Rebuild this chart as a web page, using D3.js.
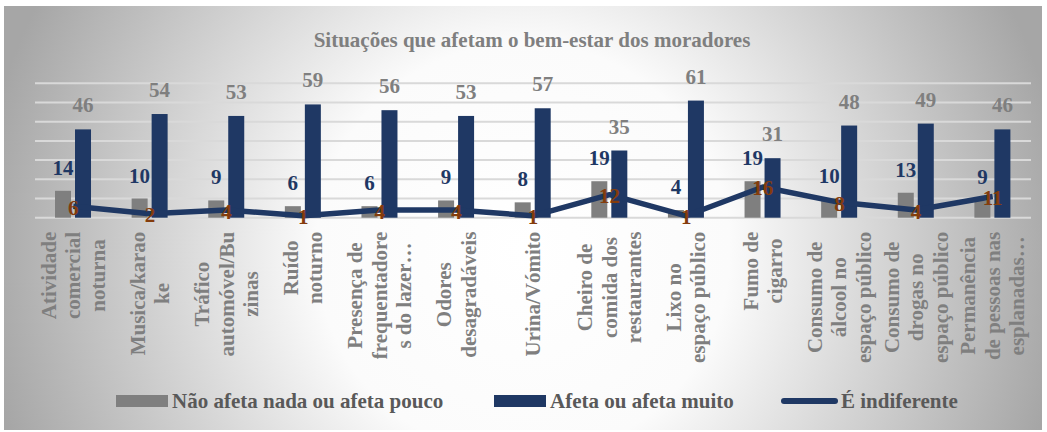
<!DOCTYPE html>
<html>
<head>
<meta charset="utf-8">
<script src="https://cdn.jsdelivr.net/npm/d3@7"></script>
<style>
  html, body { margin: 0; padding: 0; background: #ffffff; }
  svg { display: block; }
  text { font-family: "Liberation Serif", "Times New Roman", serif; font-weight: bold; }
</style>
</head>
<body>
<svg id="chart" width="1047" height="432"></svg>
<script>
// Chart data
const categories = [
    ["Atividade", "comercial", "noturna"],
    ["Musica/karao", "ke"],
    ["Tráfico", "automóvel/Bu", "zinas"],
    ["Ruído", "noturno"],
    ["Presença de", "frequentadore", "s do lazer…"],
    ["Odores", "desagradáveis"],
    ["Urina/Vómito"],
    ["Cheiro de", "comida dos", "restaurantes"],
    ["Lixo no", "espaço público"],
    ["Fumo de", "cigarro"],
    ["Consumo de", "álcool no", "espaço público"],
    ["Consumo de", "drogas no", "espaço público"],
    ["Permanência", "de pessoas nas", "esplanadas…"]
];
const naoAfeta = [14, 10, 9, 6, 6, 9, 8, 19, 4, 19, 10, 13, 9];
const afeta = [46, 54, 53, 59, 56, 53, 57, 35, 61, 31, 48, 49, 46];
const indiferente = [6, 2, 4, 1, 4, 4, 1, 12, 1, 16, 8, 4, 11];
const gridTicks = [0, 10, 20, 30, 40, 50, 60, 70];
const seriesNames = ["Não afeta nada ou afeta pouco", "Afeta ou afeta muito", "É indiferente"];

const GRAY = "#7f7f7f";
const NAVY = "#1f3864";
const ORANGE = "#843c0c";

const svg = d3.select("#chart");

// Background gradient
const defs = svg.append("defs");
const grad = defs.append("radialGradient")
    .attr("id", "bg")
    .attr("gradientUnits", "userSpaceOnUse")
    .attr("cx", 523).attr("cy", 250).attr("r", 545);
grad.append("stop").attr("offset", "0%").attr("stop-color", "#ffffff");
grad.append("stop").attr("offset", "38%").attr("stop-color", "#fbfbfb");
grad.append("stop").attr("offset", "100%").attr("stop-color", "#a6a6a6");

svg.append("rect")
    .attr("x", 4).attr("y", 6)
    .attr("width", 1038).attr("height", 424)
    .attr("fill", "url(#bg)");

// Title
svg.append("text")
    .attr("x", 532).attr("y", 47)
    .attr("text-anchor", "middle")
    .attr("font-size", 21)
    .attr("fill", GRAY)
    .text("Situações que afetam o bem-estar dos moradores");

// Scales
const x = d3.scaleBand()
    .domain(d3.range(categories.length))
    .range([35, 1031]);
const y = d3.scaleLinear()
    .domain([0, 70])
    .range([217.7, 83.3]);

const cx = i => x(i) + x.bandwidth() / 2;
const barW = 16;

// Gridlines
svg.append("g")
    .selectAll("line")
    .data(gridTicks)
    .join("line")
    .attr("x1", 35).attr("x2", 1031)
    .attr("y1", d => y(d)).attr("y2", d => y(d))
    .attr("stroke", "#d9d9d9")
    .attr("stroke-width", 2);

// Bars
svg.append("g")
    .selectAll("rect")
    .data(naoAfeta)
    .join("rect")
    .attr("x", (d, i) => cx(i) - 18.3)
    .attr("y", d => y(d))
    .attr("width", barW)
    .attr("height", d => y(0) - y(d))
    .attr("fill", GRAY);

svg.append("g")
    .selectAll("rect")
    .data(afeta)
    .join("rect")
    .attr("x", (d, i) => cx(i) + 1.7)
    .attr("y", d => y(d))
    .attr("width", barW)
    .attr("height", d => y(0) - y(d))
    .attr("fill", NAVY);

// Line
const line = d3.line()
    .x((d, i) => cx(i))
    .y(d => y(d));

svg.append("path")
    .datum(indiferente)
    .attr("d", line)
    .attr("fill", "none")
    .attr("stroke", NAVY)
    .attr("stroke-width", 5.5)
    .attr("stroke-linejoin", "round");

// Data labels
svg.append("g")
    .selectAll("text")
    .data(naoAfeta)
    .join("text")
    .attr("x", (d, i) => cx(i) - 10.3)
    .attr("y", d => y(d) - 16)
    .attr("text-anchor", "middle")
    .attr("font-size", 21)
    .attr("fill", NAVY)
    .text(d => d);

svg.append("g")
    .selectAll("text")
    .data(afeta)
    .join("text")
    .attr("x", (d, i) => cx(i) + 9.7)
    .attr("y", d => y(d) - 17)
    .attr("text-anchor", "middle")
    .attr("font-size", 21)
    .attr("fill", GRAY)
    .text(d => d);

svg.append("g")
    .selectAll("text")
    .data(indiferente)
    .join("text")
    .attr("x", (d, i) => cx(i))
    .attr("y", d => y(d) + 8.5)
    .attr("text-anchor", "middle")
    .attr("font-size", 21)
    .attr("fill", ORANGE)
    .text(d => d);

// Category labels (rotated, lines centred, block end at the axis)
const labelTop = 231.7;
const lineGap = 24.5;
categories.forEach((lines, i) => {
    const g = svg.append("g")
        .attr("transform", `translate(${cx(i)},${labelTop}) rotate(-90)`);
    const texts = lines.map((t, k) => g.append("text")
        .attr("y", (k - (lines.length - 1) / 2) * lineGap + 7)
        .attr("text-anchor", "middle")
        .attr("font-size", 21)
        .attr("fill", GRAY)
        .text(t));
    const maxLen = d3.max(texts, t => t.node().getComputedTextLength());
    texts.forEach(t => t.attr("x", -maxLen / 2));
});

// Legend
const legend = svg.append("g");
const legendItems = [
    { name: seriesNames[0], kind: "bar", color: GRAY, sx: 116, tx: 172 },
    { name: seriesNames[1], kind: "bar", color: NAVY, sx: 494, tx: 550 },
    { name: seriesNames[2], kind: "line", color: NAVY, sx: 781, tx: 841 }
];
legendItems.forEach(it => {
    if (it.kind === "bar") {
        legend.append("rect")
            .attr("x", it.sx).attr("y", 395)
            .attr("width", 52).attr("height", 12)
            .attr("fill", it.color);
    } else {
        legend.append("line")
            .attr("x1", it.sx + 3).attr("x2", it.sx + 54)
            .attr("y1", 401).attr("y2", 401)
            .attr("stroke", it.color)
            .attr("stroke-width", 6)
            .attr("stroke-linecap", "round");
    }
    legend.append("text")
        .attr("x", it.tx).attr("y", 407.5)
        .attr("font-size", 21)
        .attr("fill", "#595959")
        .text(it.name);
});
</script>
</body>
</html>
